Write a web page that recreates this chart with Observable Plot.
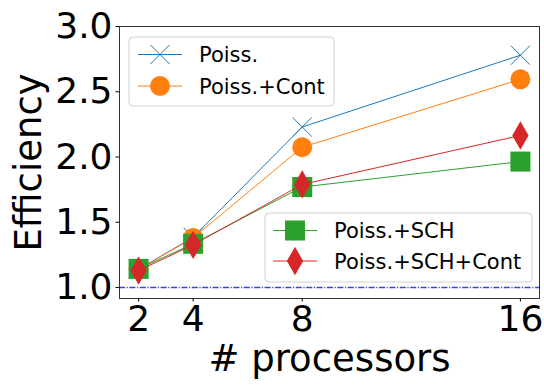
<!DOCTYPE html>
<html>
<head>
<meta charset="utf-8">
<script src="https://cdn.jsdelivr.net/npm/d3@7"></script>
<script src="https://cdn.jsdelivr.net/npm/@observablehq/plot@0.6"></script>
<style>
  html, body { margin: 0; padding: 0; background: #fff; }
</style>
</head>
<body>
<div id="chart"></div>
<script>
// Efficiency against number of processors for four configurations
const procs = [2, 4, 8, 16];
const poiss = [1.14, 1.385, 2.23, 2.78];
const poissCont = [1.14, 1.38, 2.075, 2.595];
const poissSch = [1.143, 1.335, 1.77, 1.965];
const poissSchCont = [1.13, 1.327, 1.79, 2.165];

const seriesNames = ["Poiss.", "Poiss.+Cont", "Poiss.+SCH", "Poiss.+SCH+Cont"];
const seriesValues = [poiss, poissCont, poissSch, poissSchCont];
const seriesColors = ["#1f77b4", "#ff7f0e", "#2ca02c", "#d62728"];
const seriesSymbols = ["times", "circle", "square", "diamond"];
const symbolRadius = [8.7, 10, 11.3, 8.6];

const xTicks = [2, 4, 8, 16];
const yTicks = [1.0, 1.5, 2.0, 2.5, 3.0];
const baseline = 1.0;

const rows = seriesNames.flatMap((name, i) =>
  procs.map((p, j) => ({p, v: seriesValues[i][j], series: name}))
);

const W = 544, H = 385;
const FONT = "DejaVu Sans, sans-serif";

const marks = [];
seriesNames.forEach((name, i) => {
  const data = rows.filter(d => d.series === name);
  const stroked = seriesSymbols[i] === "times";
  marks.push(Plot.line(data, {x: "p", y: "v", stroke: seriesColors[i], strokeWidth: 1}));
  marks.push(Plot.dot(data, {
    x: "p", y: "v",
    symbol: seriesSymbols[i],
    r: symbolRadius[i],
    fill: stroked ? "none" : seriesColors[i],
    stroke: stroked ? seriesColors[i] : "none",
    strokeWidth: stroked ? 1 : 0
  }));
});

const chart = Plot.plot({
  width: W,
  height: H,
  marginLeft: 119,
  marginRight: 5,
  marginTop: 26,
  marginBottom: 87,
  style: {fontFamily: FONT, fontSize: "36px", background: "#fff", color: "#000", overflow: "visible"},
  x: {type: "linear", domain: [1.3, 16.7]},
  y: {domain: [0.916, 3.0]},
  marks: [
    Plot.ruleY([baseline], {stroke: "#3c3cff", strokeWidth: 1.5, strokeDasharray: "6,1.6,1.2,1.6"}),
    ...marks,
    Plot.frame({stroke: "#333", strokeWidth: 1}),
    Plot.axisX(xTicks, {tickSize: 3.5, tickPadding: 3.5, label: null, fontSize: 36, tickFormat: d => String(d)}),
    Plot.axisY(yTicks, {tickSize: 3.5, tickPadding: 3.5, label: null, fontSize: 36, tickFormat: d3.format(".1f")}),
    Plot.text(["Efficiency"], {frameAnchor: "left", dx: -90, rotate: -90, textAnchor: "middle", fontSize: 37, text: d => d}),
    Plot.text(["# processors"], {frameAnchor: "bottom", dy: 72, fontSize: 37, text: d => d})
  ]
});

// Legends drawn inside the axes
const svg = d3.select(chart);
function drawLegend(box, entries) {
  const g = svg.append("g")
    .attr("font-family", FONT).attr("font-size", 21).attr("text-anchor", "start");
  g.append("rect")
    .attr("x", box.x).attr("y", box.y)
    .attr("width", box.w).attr("height", box.h)
    .attr("rx", 4).attr("ry", 4)
    .attr("fill", "rgba(255,255,255,0.8)")
    .attr("stroke", "#d0d0d0").attr("stroke-width", 1);
  entries.forEach((i, k) => {
    const cy = box.y + box.first + k * box.step;
    const x0 = box.x + box.lineStart, x1 = x0 + 44;
    g.append("line")
      .attr("x1", x0).attr("x2", x1).attr("y1", cy).attr("y2", cy)
      .attr("stroke", seriesColors[i]).attr("stroke-width", 1);
    const typ = {times: d3.symbolTimes, circle: d3.symbolCircle, square: d3.symbolSquare, diamond: d3.symbolDiamond}[seriesSymbols[i]];
    const stroked = seriesSymbols[i] === "times";
    g.append("path")
      .attr("transform", `translate(${(x0 + x1) / 2},${cy})`)
      .attr("d", d3.symbol(typ, Math.PI * symbolRadius[i] ** 2)())
      .attr("fill", stroked ? "none" : seriesColors[i])
      .attr("stroke", stroked ? seriesColors[i] : "none")
      .attr("stroke-width", 1);
    g.append("text")
      .attr("x", x1 + 17).attr("y", cy).attr("dy", "0.36em")
      .attr("text-anchor", "start")
      .attr("fill", "#000")
      .text(seriesNames[i]);
  });
}
drawLegend({x: 129, y: 37, w: 205, h: 69, first: 17.5, step: 31.5, lineStart: 9}, [0, 1]);
drawLegend({x: 265, y: 213, w: 267, h: 69, first: 17.5, step: 30.5, lineStart: 8}, [2, 3]);

document.getElementById("chart").appendChild(chart);
</script>
</body>
</html>
